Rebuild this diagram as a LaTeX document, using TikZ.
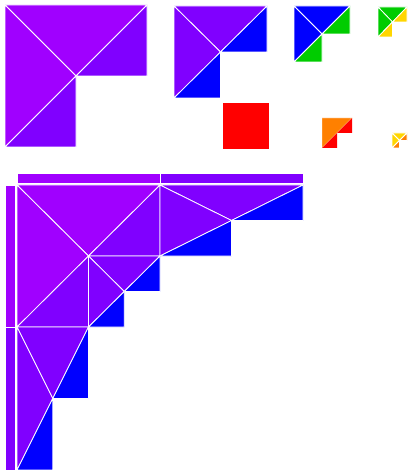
\documentclass[tikz,border=0pt]{standalone}
\definecolor{vio}{RGB}{160,0,255}
\definecolor{pur}{RGB}{128,0,255}
\definecolor{blu}{RGB}{0,0,255}
\definecolor{grn}{RGB}{0,204,0}
\definecolor{gld}{RGB}{255,214,0}
\definecolor{org}{RGB}{255,128,0}
\definecolor{rd}{RGB}{255,0,0}
\tikzset{
  tri/.style={draw=white,line width=0.8pt,line join=round},
  plain/.style={draw=white,draw opacity=0.4,line width=0.8pt}
}
\newcommand{\lshape}[6]{%
  \begin{scope}[shift={(#1,#2)},xscale=#3,yscale=#4]
    \filldraw[tri,fill=#5] (0,0) -- (1,0) -- (0.5,0.5) -- cycle;
    \filldraw[tri,fill=#5] (0,0) -- (0.5,0.5) -- (0,1) -- cycle;
    \filldraw[tri,fill=#6] (1,0) -- (1,0.5) -- (0.5,0.5) -- cycle;
    \filldraw[tri,fill=#6] (0.5,0.5) -- (0.5,1) -- (0,1) -- cycle;
  \end{scope}}
\begin{document}
\begin{tikzpicture}[x=1pt,y=-1pt]
  \useasboundingbox[fill=white] (0,0) rectangle (410,470);
  % top row
  \lshape{5}{5}{142}{142}{vio}{pur}
  \lshape{174}{6}{93}{92}{pur}{blu}
  \lshape{294}{6}{56}{56}{blu}{grn}
  \lshape{378}{7}{29}{30}{grn}{gld}
  \lshape{392}{133}{15}{15}{gld}{org}
  % red square
  \fill[rd] (223,103) rectangle (269,149);
  % orange / red piece
  \begin{scope}[shift={(322,118)},xscale=30,yscale=30]
    \filldraw[plain,fill=org] (0,0) -- (1,0) -- (0.5,0.5) -- (0,1) -- cycle;
    \fill[rd] (1,0) -- (1,0.5) -- (0.5,0.5) -- cycle;
    \fill[rd] (0.5,0.5) -- (0.5,1) -- (0,1) -- cycle;
  \end{scope}
  % bottom assembly: bars
  \filldraw[tri,fill=vio] (17,173) rectangle (160,183);
  \filldraw[tri,fill=pur] (160,173) rectangle (303,183);
  \filldraw[tri,fill=vio] (5,185) rectangle (15,327);
  \filldraw[tri,fill=pur] (5,327) rectangle (15,470);
  % main square
  \filldraw[tri,fill=vio] (17,185) -- (160,185) -- (88.5,256) -- cycle;
  \filldraw[tri,fill=vio] (17,185) -- (88.5,256) -- (17,327) -- cycle;
  \filldraw[tri,fill=pur] (160,185) -- (160,256) -- (88.5,256) -- cycle;
  \filldraw[tri,fill=pur] (88.5,256) -- (88.5,327) -- (17,327) -- cycle;
  \lshape{88.5}{256}{71.5}{71}{pur}{blu}
  % arms
  \lshape{160}{185}{143}{71}{pur}{blu}
  \lshape{17}{327}{71.5}{143}{pur}{blu}
\end{tikzpicture}
\end{document}
